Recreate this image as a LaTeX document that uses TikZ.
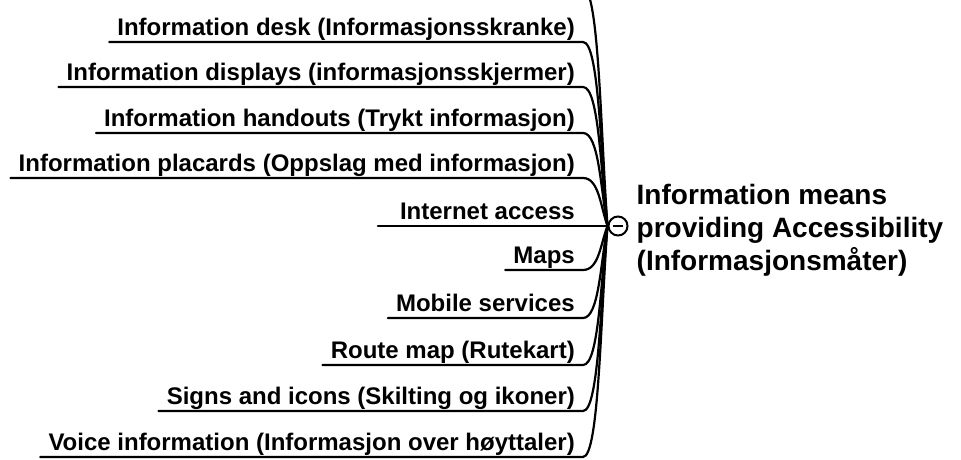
\documentclass[tikz,border=0pt]{standalone}
\usepackage{fontspec}
\setmainfont{Liberation Sans}
\begin{document}
\tikzset{
  topic/.style={font=\fontsize{24}{28}\selectfont\bfseries, anchor=south east,
    inner xsep=8pt, inner ysep=6pt, text height=17pt, text depth=0pt},
  link/.style={line width=2.2pt, line cap=round, line join=round},
  hub/.style={circle, draw, line width=2pt, fill=white, minimum size=19pt, inner sep=0pt},
  central/.style={anchor=west, align=left, inner sep=0pt,
    font=\fontsize{28}{33}\selectfont\bfseries},
}
\begin{tikzpicture}[x=1pt,y=-1pt]
\useasboundingbox (0,0) rectangle (961,460);
\clip (0,0) rectangle (961,460);

% central topic with its collapse marker
\node[hub] (c) at (618,226) {};
\draw[line width=1.8pt] (c.center) +(-5,0) -- +(5,0);
\node[central] (title) at ([xshift=8pt,yshift=-4pt]c.east)
  {Information means\\providing Accessibility\\(Informasjonsmåter)};

% branch running in from above the visible area
\coordinate (upper) at (583,-12);
\draw[link] (upper) .. controls +(16,0) and +(-7,{0.4*(-12-226)}) .. (c.west);

% subtopics: underline, then a curve into the hub
\foreach \y/\n/\t in {
  42/desk/{Information desk (Informasjonsskranke)},
  87/displays/{Information displays (informasjonsskjermer)},
  133/handouts/{Information handouts (Trykt informasjon)},
  178/placards/{Information placards (Oppslag med informasjon)},
  226/internet/{\hspace*{14pt}Internet access},
  270/maps/{Maps},
  318/mobile/{Mobile services},
  365/route/{Route map (Rutekart)},
  411/signs/{Signs and icons (Skilting og ikoner)},
  457/voice/{Voice information (Informasjon over høyttaler)}}
{
  \node[topic] (\n) at (583,\y) {\t};
  \draw[link] (\n.south west) -- (\n.south east)
    .. controls +(16,0) and +(-7,{0.4*(\y-226)}) .. (c.west);
}
\end{tikzpicture}
\end{document}
